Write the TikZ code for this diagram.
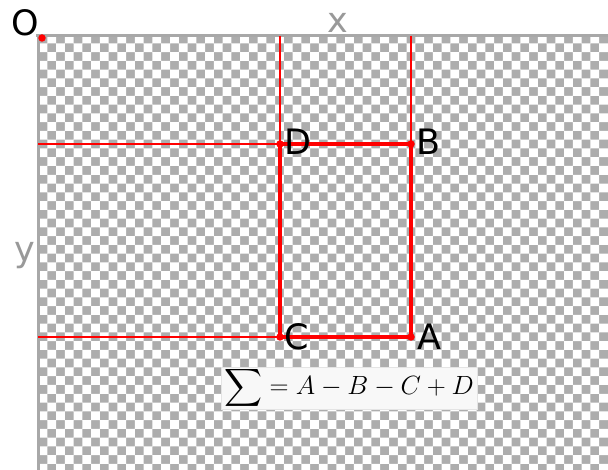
\documentclass[tikz,border=0pt]{standalone}
\usepackage{amsmath}
\usepackage{fontspec}
\newfontfamily\lblfont{DejaVu Sans}
\usetikzlibrary{positioning}
\definecolor{checkGray}{HTML}{ADADAD}
\definecolor{axisGray}{HTML}{A8A8A8}
\definecolor{labelGray}{HTML}{999999}
\definecolor{sumFill}{HTML}{F8F8F8}
\definecolor{sumLine}{HTML}{E4E4E4}
\definecolor{rectRed}{HTML}{FF0000}

\begin{document}
\begin{tikzpicture}[x=1pt, y=-1pt,
    dot/.style={circle, fill=rectRed, inner sep=0pt, minimum size=7.5pt},
    lbl/.style={inner sep=0pt, font=\fontsize{35}{42}\selectfont\lblfont\color{black}},
    axislbl/.style={lbl, font=\fontsize{35}{42}\selectfont\lblfont\color{labelGray}},
    guide/.style={draw=rectRed, line width=1.8pt},
    edge/.style={draw=rectRed, line width=3.3pt, line join=miter},
    formula/.style={rectangle, draw=sumLine, fill=sumFill, line width=0.8pt,
                    inner sep=0pt, minimum width=256pt, minimum height=42pt,
                    font=\fontsize{24.88}{30}\selectfont},
  ]
    \useasboundingbox (0,0) rectangle (608,470);

    % checkerboard
    \begin{scope}
      \clip (38,35) rectangle (608,470);
      \fill[checkGray] (38,35) rectangle (608,470);
      \fill[white]
        \foreach \i in {0,2,...,64} { \foreach \j in {1,3,...,49}
          { (38.6+\i*8.76, 34.6+\j*8.76) rectangle ++(8.76,8.76) } }
        \foreach \i in {1,3,...,65} { \foreach \j in {0,2,...,48}
          { (38.6+\i*8.76, 34.6+\j*8.76) rectangle ++(8.76,8.76) } };
    \end{scope}
    \draw[axisGray, line width=3pt] (36,36) -- (608,36);
    \draw[axisGray, line width=3pt] (38,34) -- (38,470);

    \coordinate (Dtop) at (280,36);
    \coordinate (Btop) at (411,36);
    \coordinate (Dleft) at (38,144);
    \coordinate (Cleft) at (38,337);

    \draw[guide] (Dtop) -- (280,144) coordinate (Dp);
    \draw[guide] (Btop) -- (411,144) coordinate (Bp);
    \draw[guide] (Dleft) -- (Dp);
    \draw[guide] (Cleft) -- (280,337) coordinate (Cp);
    \draw[edge] (Dp) -- (Bp) -- (411,337) coordinate (Ap) -- (Cp) -- cycle;

    \node[dot] (O) at (42,38) {};
    \node[dot] (D) at (Dp) {};
    \node[dot] (B) at (Bp) {};
    \node[dot] (C) at (Cp) {};
    \node[dot] (A) at (Ap) {};

    \node[lbl] (labO) at (25.5,22.5) {O};
    \node[axislbl] (labx) at (337.5,22.5) {x};
    \node[axislbl] (laby) at (25,256) {y};
    \node[lbl] (labD) at (298,142) {D};
    \node[lbl] (labB) at (428.5,142) {B};
    \node[lbl] (labC) at (296.5,337) {C};
    \node[lbl] (labA) at (429.5,337) {A};

    \node[formula] (sum) at (349,388)
      {\scalebox{1.06}{$\displaystyle\sum = A - B - C + D$}};
  \end{tikzpicture}
\end{document}
